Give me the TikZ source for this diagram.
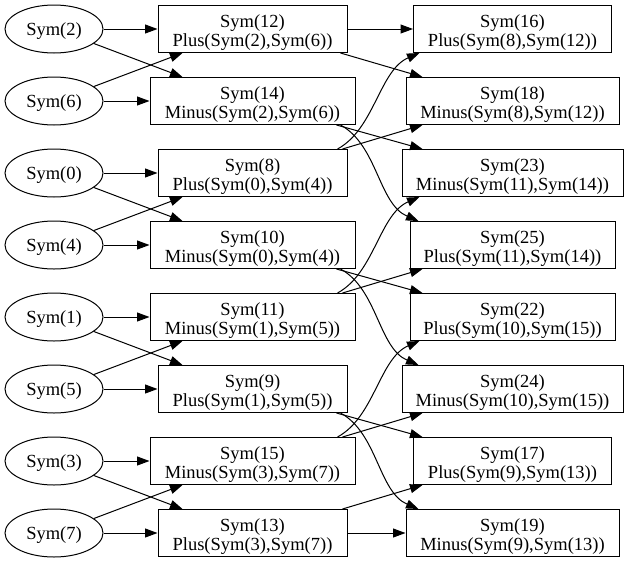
\documentclass[tikz,border=0pt]{standalone}
\usepackage{fontspec}
\setmainfont{Liberation Serif}
\usetikzlibrary{shapes.geometric,arrows.meta,calc}
\newcommand\mytopstrut{\rule{0pt}{19.5pt}}
\begin{document}
\begin{tikzpicture}[x=1pt,y=-1pt,
  every node/.style={font=\fontsize{18.5}{19}\selectfont, inner sep=0pt},
  sym/.style={ellipse, draw, line width=1pt, minimum width=98pt, minimum height=48pt,
    execute at begin node={\rule{0pt}{16pt}}},
  opbox/.style={rectangle, draw, line width=1pt, minimum height=47pt, align=center},
  arr/.style={line width=1pt, -{Triangle[length=12.5pt,width=9pt]}},
]
\useasboundingbox (0,0) rectangle (629,563);
% left ellipses
\node[sym] (e2) at (54,29) {Sym(2)};
\node[sym] (e6) at (54,101) {Sym(6)};
\node[sym] (e0) at (54,173) {Sym(0)};
\node[sym] (e4) at (54,245) {Sym(4)};
\node[sym] (e1) at (54,317) {Sym(1)};
\node[sym] (e5) at (54,389) {Sym(5)};
\node[sym] (e3) at (54,461) {Sym(3)};
\node[sym] (e7) at (54,533) {Sym(7)};
% middle boxes
\node[opbox, minimum width=189pt] (m12) at (252.5,29) {\mytopstrut Sym(12)\\Plus(Sym(2),Sym(6))};
\node[opbox, minimum width=205pt] (m14) at (252.5,101) {\mytopstrut Sym(14)\\Minus(Sym(2),Sym(6))};
\node[opbox, minimum width=189pt] (m8) at (252.5,173) {\mytopstrut Sym(8)\\Plus(Sym(0),Sym(4))};
\node[opbox, minimum width=205pt] (m10) at (252.5,245) {\mytopstrut Sym(10)\\Minus(Sym(0),Sym(4))};
\node[opbox, minimum width=205pt] (m11) at (252.5,317) {\mytopstrut Sym(11)\\Minus(Sym(1),Sym(5))};
\node[opbox, minimum width=189pt] (m9) at (252.5,389) {\mytopstrut Sym(9)\\Plus(Sym(1),Sym(5))};
\node[opbox, minimum width=205pt] (m15) at (252.5,461) {\mytopstrut Sym(15)\\Minus(Sym(3),Sym(7))};
\node[opbox, minimum width=189pt] (m13) at (252.5,533) {\mytopstrut Sym(13)\\Plus(Sym(3),Sym(7))};
% right boxes
\node[opbox, minimum width=198pt] (r16) at (512.5,29) {\mytopstrut Sym(16)\\Plus(Sym(8),Sym(12))};
\node[opbox, minimum width=213pt] (r18) at (512.5,101) {\mytopstrut Sym(18)\\Minus(Sym(8),Sym(12))};
\node[opbox, minimum width=221pt] (r23) at (512.5,173) {\mytopstrut Sym(23)\\Minus(Sym(11),Sym(14))};
\node[opbox, minimum width=205pt] (r25) at (512.5,245) {\mytopstrut Sym(25)\\Plus(Sym(11),Sym(14))};
\node[opbox, minimum width=205pt] (r22) at (512.5,317) {\mytopstrut Sym(22)\\Plus(Sym(10),Sym(15))};
\node[opbox, minimum width=221pt] (r24) at (512.5,389) {\mytopstrut Sym(24)\\Minus(Sym(10),Sym(15))};
\node[opbox, minimum width=198pt] (r17) at (512.5,461) {\mytopstrut Sym(17)\\Plus(Sym(9),Sym(13))};
\node[opbox, minimum width=213pt] (r19) at (512.5,533) {\mytopstrut Sym(19)\\Minus(Sym(9),Sym(13))};
% left edges
\foreach \a/\b/\ma/\mb in {e2/e6/m12/m14, e0/e4/m8/m10, e1/e5/m11/m9, e3/e7/m15/m13}{
  \draw[arr] (\a.east) -- (\ma.west);
  \draw[arr] (\b.east) -- (\mb.west);
  \draw[arr] (\a.-20) -- ($(\mb.north)+(-70,0)$);
  \draw[arr] (\b.20) -- ($(\ma.south)+(-70,0)$);
}
% right edges
\draw[arr] (m12.east) -- (r16.west);
\draw[arr] (m13.east) -- (r19.west);
\draw[arr] ($(m12.south)+(88,0)$) -- ($(r18.north)+(-90,0)$);
\draw[arr] ($(m8.north)+(90,0)$) -- ($(r18.south)+(-90,0)$);
\draw[arr] ($(m8.north)+(85,0)$) .. controls +(37,-20) and +(-40,17) .. ($(r16.south)+(-93,0)$);
\draw[arr] ($(m14.south)+(84,0)$) -- ($(r23.north)+(-90,0)$);
\draw[arr] ($(m14.south)+(88,0)$) .. controls +(37,20) and +(-40,-17) .. ($(r25.north)+(-94,0)$);
\draw[arr] ($(m11.north)+(85,0)$) .. controls +(37,-20) and +(-40,17) .. ($(r23.south)+(-93,0)$);
\draw[arr] ($(m11.north)+(90,0)$) -- ($(r25.south)+(-90,0)$);
\draw[arr] ($(m10.south)+(84,0)$) -- ($(r22.north)+(-90,0)$);
\draw[arr] ($(m10.south)+(88,0)$) .. controls +(37,20) and +(-40,-17) .. ($(r24.north)+(-94,0)$);
\draw[arr] ($(m15.north)+(85,0)$) .. controls +(37,-20) and +(-40,17) .. ($(r22.south)+(-93,0)$);
\draw[arr] ($(m15.north)+(90,0)$) -- ($(r24.south)+(-90,0)$);
\draw[arr] ($(m9.south)+(84,0)$) -- ($(r17.north)+(-90,0)$);
\draw[arr] ($(m9.south)+(88,0)$) .. controls +(37,20) and +(-40,-17) .. ($(r19.north)+(-94,0)$);
\draw[arr] ($(m13.north)+(90,0)$) -- ($(r17.south)+(-90,0)$);
\end{tikzpicture}
\end{document}
